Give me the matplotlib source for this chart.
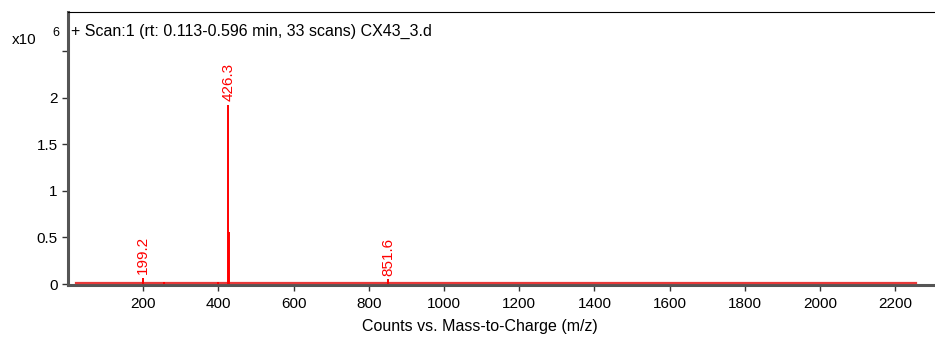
import matplotlib.pyplot as plt
from matplotlib.ticker import MultipleLocator

plt.rcParams['font.family'] = ['Liberation Sans', 'DejaVu Sans']

# spectrum (intensity in units of 1e6 counts)
peak_mz = [199.2, 255.0, 398.0, 426.3, 427.3, 851.6]
peak_int = [0.07, 0.02, 0.02, 1.92, 0.56, 0.05]
labeled_mz = [199.2, 426.3, 851.6]
labeled_int = [0.07, 1.92, 0.05]
baseline_mz = [20, 2254]
baseline_int = [0.014, 0.014]

x_ticks = [200, 400, 600, 800, 1000, 1200, 1400, 1600, 1800, 2000, 2200]
y_ticks = [0, 0.5, 1, 1.5, 2, 2.5]
y_ticklabels = ['0', '0.5', '1', '1.5', '2', '']

title = '+ Scan:1 (rt: 0.113-0.596 min, 33 scans) CX43_3.d'
xlabel = 'Counts vs. Mass-to-Charge (m/z)'

fig = plt.figure(figsize=(9.35, 3.42), dpi=100)
ax = fig.add_axes([68 / 935, 57 / 342, 880 / 935, 273 / 342])

ax.plot(baseline_mz, baseline_int, color='#e83a3a', lw=1.6, zorder=3)
ax.vlines(peak_mz, 0, peak_int, color='red', lw=1.4, zorder=4)
for mz, h in zip(labeled_mz, labeled_int):
    ax.text(mz, h + 0.04, f'{mz:.1f}', rotation=90, color='red',
            ha='center', va='bottom', fontsize=11)

ax.set_xlim(0, 2340)
ax.set_ylim(-0.01, 2.92)
ax.set_xticks(x_ticks)
ax.xaxis.set_minor_locator(MultipleLocator(100))
ax.set_yticks(y_ticks)
ax.set_yticklabels(y_ticklabels)
ax.tick_params(axis='both', labelsize=11, length=4, width=1, color='#333333')
ax.tick_params(axis='x', pad=5)
ax.tick_params(axis='x', which='minor', length=0)

for side in ['left', 'bottom']:
    ax.spines[side].set_color('#555555')
    ax.spines[side].set_linewidth(2.2)
ax.spines['top'].set_linewidth(0.8)
ax.spines['right'].set_visible(False)

ax.text(0.003, 0.93, title, transform=ax.transAxes, fontsize=11.5,
        ha='left', va='center')
fig.text(480 / 935, 1 - 327 / 342, xlabel, fontsize=11.5, ha='center', va='center')
fig.text(12 / 935, 1 - 40 / 342, 'x10', fontsize=11, va='center', ha='left')
fig.text(52 / 935, 1 - 33 / 342, '6', fontsize=9, va='center', ha='left')

fig.savefig('out.png', dpi=100)
